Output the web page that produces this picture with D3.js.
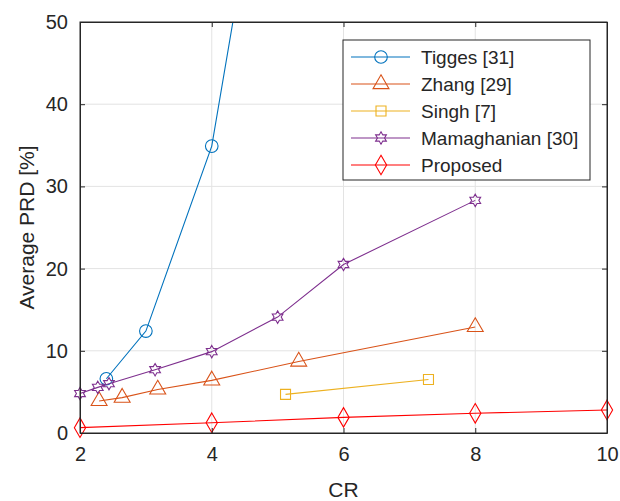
<!doctype html>
<html>
<head>
<style>
body { margin:0; background:#fff; }
svg text { font-family:"Liberation Sans", Arial, sans-serif; fill:#262626; }
</style>
<script src="https://d3js.org/d3.v7.min.js"></script>
</head>
<body>
<script>

// data
var tiggesX = [2.4, 3, 4, 5];
var tiggesY = [6.6, 12.4, 34.9, 82];
var zhangX = [2.29, 2.64, 3.18, 4, 5.32, 8];
var zhangY = [3.9, 4.3, 5.3, 6.4, 8.7, 12.9];
var singhX = [5.12, 7.29];
var singhY = [4.7, 6.5];
var mamaX = [2, 2.27, 2.44, 3.14, 4, 5, 6, 8];
var mamaY = [4.8, 5.55, 6.0, 7.7, 9.9, 14.1, 20.5, 28.3];
var propX = [2, 4, 6, 8, 10];
var propY = [0.65, 1.25, 1.9, 2.4, 2.8];

var seriesNames = ['Tigges [31]', 'Zhang [29]', 'Singh [7]', 'Mamaghanian [30]', 'Proposed'];
var xTicks = [2, 4, 6, 8, 10];
var yTicks = [0, 10, 20, 30, 40, 50];

var svgWidth = 620, svgHeight = 501;
var plotLeft = 80, plotTop = 22, plotRight = 607, plotBottom = 433;

var svg = d3.select('body').append('svg')
    .attr('width', svgWidth)
    .attr('height', svgHeight);

var x = d3.scaleLinear().domain([2, 10]).range([plotLeft, plotRight]);
var y = d3.scaleLinear().domain([0, 50]).range([plotBottom, plotTop]);

// grid
svg.append('g').selectAll('line').data(xTicks.slice(1, -1)).enter().append('line')
    .attr('x1', function(d) { return x(d); }).attr('x2', function(d) { return x(d); })
    .attr('y1', plotTop).attr('y2', plotBottom)
    .attr('stroke', '#e3e3e3').attr('stroke-width', 1);
svg.append('g').selectAll('line').data(yTicks.slice(1, -1)).enter().append('line')
    .attr('y1', function(d) { return y(d); }).attr('y2', function(d) { return y(d); })
    .attr('x1', plotLeft).attr('x2', plotRight)
    .attr('stroke', '#e3e3e3').attr('stroke-width', 1);

// hexagram marker for Mamaghanian
var hexagram = {
  draw: function(ctx, size) {
    var r = Math.sqrt(size) * 0.62, ri = r * 0.577;
    for (var i = 0; i < 12; i++) {
      var a = -Math.PI / 2 + i * Math.PI / 6;
      var rr = (i % 2 === 0) ? r : ri;
      if (i === 0) ctx.moveTo(rr * Math.cos(a), rr * Math.sin(a));
      else ctx.lineTo(rr * Math.cos(a), rr * Math.sin(a));
    }
    ctx.closePath();
  }
};

var series = [
  { name: seriesNames[0], xs: tiggesX, ys: tiggesY, color: '#0072BD', sym: d3.symbolCircle, size: 125 },
  { name: seriesNames[1], xs: zhangX, ys: zhangY, color: '#D95319', sym: d3.symbolTriangle, size: 110 },
  { name: seriesNames[2], xs: singhX, ys: singhY, color: '#EDB120', sym: d3.symbolSquare, size: 100 },
  { name: seriesNames[3], xs: mamaX, ys: mamaY, color: '#7E2F8E', sym: hexagram, size: 100 },
  { name: seriesNames[4], xs: propX, ys: propY, color: '#FF0000', sym: d3.symbolDiamond, size: 110 }
];

svg.append('clipPath').attr('id', 'plotclip')
  .append('rect').attr('x', plotLeft - 10).attr('y', plotTop)
  .attr('width', plotRight - plotLeft + 20).attr('height', plotBottom - plotTop + 10);

var line = d3.line()
    .x(function(d) { return x(d[0]); })
    .y(function(d) { return y(d[1]); });

var plot = svg.append('g').attr('clip-path', 'url(#plotclip)');

series.forEach(function(s) {
  var pts = s.xs.map(function(v, i) { return [v, s.ys[i]]; });
  plot.append('path')
      .attr('d', line(pts))
      .attr('fill', 'none')
      .attr('stroke', s.color)
      .attr('stroke-width', 1.1);
  plot.selectAll(null).data(pts).enter().append('path')
      .attr('transform', function(d) { return 'translate(' + x(d[0]) + ',' + y(d[1]) + ')'; })
      .attr('d', d3.symbol().type(s.sym).size(s.size))
      .attr('fill', 'none')
      .attr('stroke', s.color)
      .attr('stroke-width', 1.1);
});

// axes box
svg.append('rect')
    .attr('x', plotLeft).attr('y', plotTop)
    .attr('width', plotRight - plotLeft).attr('height', plotBottom - plotTop)
    .attr('fill', 'none').attr('stroke', '#262626').attr('stroke-width', 1);

var xAxis = d3.axisBottom(x).tickValues(xTicks).tickSizeInner(-5).tickSizeOuter(0).tickPadding(14);
svg.append('g').attr('transform', 'translate(0,' + plotBottom + ')').call(xAxis);
var yAxis = d3.axisLeft(y).tickValues(yTicks).tickSizeInner(-5).tickSizeOuter(0).tickPadding(12);
svg.append('g').attr('transform', 'translate(' + plotLeft + ',0)').call(yAxis);
var xAxisTop = d3.axisTop(x).tickValues(xTicks).tickSizeInner(-5).tickSizeOuter(0).tickFormat('');
svg.append('g').attr('transform', 'translate(0,' + plotTop + ')').call(xAxisTop);
var yAxisRight = d3.axisRight(y).tickValues(yTicks).tickSizeInner(-5).tickSizeOuter(0).tickFormat('');
svg.append('g').attr('transform', 'translate(' + plotRight + ',0)').call(yAxisRight);

svg.selectAll('.domain').attr('stroke', '#262626');
svg.selectAll('.tick line').attr('stroke', '#262626');
svg.selectAll('.tick text')
    .style('font-family', '"Liberation Sans", Arial, sans-serif')
    .style('font-size', '20px')
    .attr('fill', '#262626');

svg.append('text')
    .attr('x', (plotLeft + plotRight) / 2).attr('y', 497)
    .attr('text-anchor', 'middle')
    .style('font-size', '21px')
    .text('CR');

svg.append('text')
    .attr('transform', 'translate(34,' + ((plotTop + plotBottom) / 2) + ') rotate(-90)')
    .attr('text-anchor', 'middle')
    .style('font-size', '21px')
    .text('Average PRD [%]');

// legend
var legend = svg.append('g');
legend.append('rect')
    .attr('x', 343).attr('y', 40).attr('width', 247).attr('height', 140)
    .attr('fill', '#fff').attr('stroke', '#262626').attr('stroke-width', 1);

var rowY = d3.scalePoint().domain(seriesNames).range([57, 165]);

series.forEach(function(s) {
  var yy = rowY(s.name);
  legend.append('line')
      .attr('x1', 351).attr('x2', 410).attr('y1', yy).attr('y2', yy)
      .attr('stroke', s.color).attr('stroke-width', 1.1);
  legend.append('path')
      .attr('transform', 'translate(381,' + yy + ')')
      .attr('d', d3.symbol().type(s.sym).size(s.size))
      .attr('fill', 'none').attr('stroke', s.color).attr('stroke-width', 1.1);
  legend.append('text')
      .attr('x', 421).attr('y', yy + 7)
      .style('font-size', '19px')
      .text(s.name);
});
</script>
</body>
</html>
